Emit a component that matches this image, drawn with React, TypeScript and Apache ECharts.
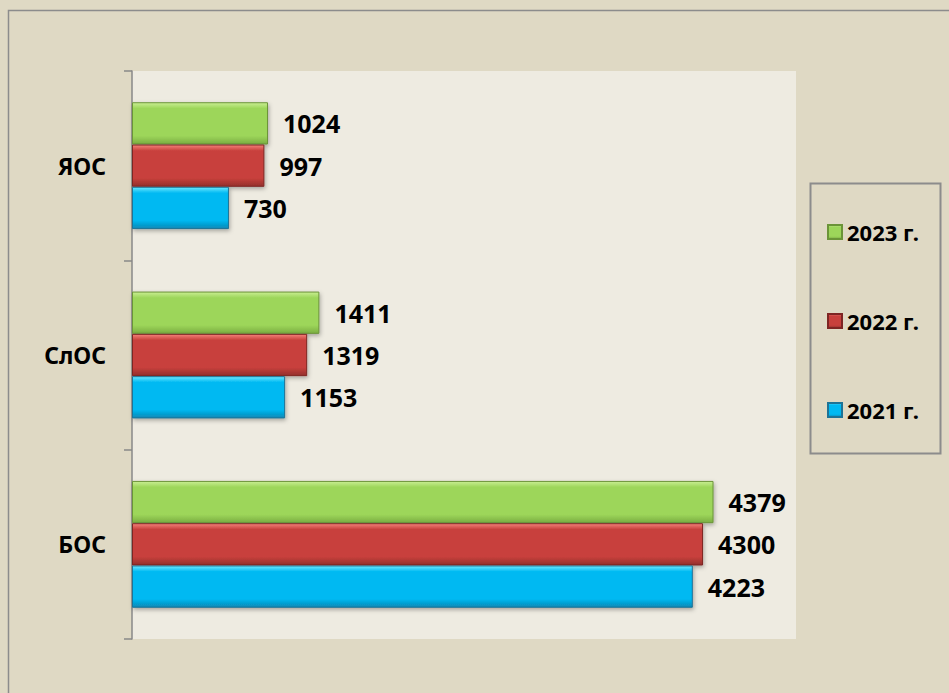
import React, { useEffect, useRef } from "react";
import * as echarts from "echarts";

const categories = ["БОС", "СлОС", "ЯОС"];
const seriesNames = ["2023 г.", "2022 г.", "2021 г."];
const values2023 = [4379, 1411, 1024];
const values2022 = [4300, 1319, 997];
const values2021 = [4223, 1153, 730];
const legendOrder = ["2023 г.", "2022 г.", "2021 г."];

const FONT = "'Noto Sans', 'DejaVu Sans', sans-serif";

function grad(light: string, main: string, dark: string) {
  return new echarts.graphic.LinearGradient(0, 0, 0, 1, [
    { offset: 0, color: light },
    { offset: 0.14, color: main },
    { offset: 0.8, color: main },
    { offset: 1, color: dark },
  ]);
}

const styles = [
  { fill: grad("#C9EE92", "#9DD65A", "#7BAE42"), border: "#6B9438" },
  { fill: grad("#F4817A", "#C8403C", "#94302C"), border: "#7E2523" },
  { fill: grad("#6BE8FF", "#00B9F2", "#0A88B5"), border: "#1E7396" },
];

export default function App() {
  const ref = useRef<HTMLDivElement>(null);
  useEffect(() => {
    document.body.style.margin = "0";
    const chart = echarts.init(ref.current!, null, { renderer: "svg" });
    const data = [values2023, values2022, values2021];
    chart.setOption({
      animation: false,
      backgroundColor: "#DFD9C4",
      textStyle: { fontFamily: FONT },
      graphic: [
        {
          type: "rect",
          shape: { x: 8.5, y: 10.5, width: 960, height: 720 },
          style: { fill: "none", stroke: "#8C8C8C", lineWidth: 1.5 },
          silent: true,
        },
        {
          type: "rect",
          shape: { x: 810.5, y: 183.5, width: 130, height: 270 },
          style: { fill: "none", stroke: "#8C8C8C", lineWidth: 2 },
          silent: true,
        },
      ],
      grid: {
        left: 132,
        top: 71,
        right: 153,
        bottom: 54,
        show: true,
        backgroundColor: "#EEEBE1",
        borderWidth: 0,
      },
      legend: {
        orient: "vertical",
        left: 827,
        top: 221,
        padding: 0,
        data: legendOrder,
        itemWidth: 14,
        itemHeight: 14,
        itemGap: 67,
        icon: "rect",
        textStyle: {
          fontFamily: FONT,
          fontWeight: "bold",
          fontSize: 22,
          lineHeight: 22,
          color: "#000",
        },
      },
      xAxis: {
        type: "value",
        min: 0,
        max: 5000,
        show: false,
        splitLine: { show: false },
      },
      yAxis: {
        type: "category",
        data: categories,
        axisLine: { show: true, lineStyle: { color: "#888", width: 1.5 } },
        axisTick: { show: true, length: 8, lineStyle: { color: "#888", width: 1.5 } },
        axisLabel: {
          margin: 26,
          fontFamily: FONT,
          fontWeight: "bold",
          fontSize: 23,
          color: "#000",
        },
        splitLine: { show: false },
      },
      series: seriesNames.map((name, i) => ({
        name,
        type: "bar",
        data: data[i],
        barGap: "0%",
        barCategoryGap: "33%",
        itemStyle: {
          color: styles[i].fill,
          borderColor: styles[i].border,
          borderWidth: 1,
          shadowBlur: 4,
          shadowOffsetY: 2,
          shadowOffsetX: 1,
          shadowColor: "rgba(0,0,0,0.3)",
        },
        label: {
          show: true,
          position: "right",
          distance: 15,
          fontFamily: FONT,
          fontWeight: "bold",
          fontSize: 25,
          color: "#000",
        },
      })),
    });
    return () => chart.dispose();
  }, []);
  return (
    <div
      ref={ref}
      style={{ position: "absolute", left: 0, top: 0, width: 949, height: 693 }}
    />
  );
}
